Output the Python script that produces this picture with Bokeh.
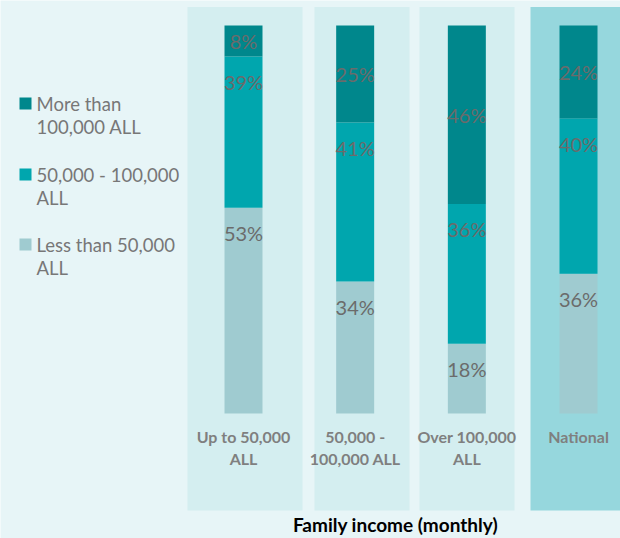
from bokeh.plotting import figure
from bokeh.models import Range1d, ColumnDataSource
from bokeh.core.properties import value
from bokeh.embed import file_html
from bokeh.resources import INLINE

# ---------------- data ----------------
categories = ["Up to 50,000\nALL", "50,000 -\n100,000 ALL", "Over 100,000\nALL", "National"]
series_names = ["Less than 50,000\nALL", "50,000 - 100,000\nALL", "More than\n100,000 ALL"]
less_50k = [53, 34, 18, 36]
mid_50_100k = [39, 41, 36, 40]
more_100k = [8, 25, 46, 24]
x_title = "Family income (monthly)"

# ---------------- styles ----------------
BG = "#E7F5F7"
PANEL = "#D4EEF0"
PANEL_NAT = "#96D7DD"
C_LESS = "#9FCBD0"
C_MID = "#00A6AE"
C_MORE = "#00878C"
LBL = "#6B6B6B"
CAT = "#7F7F7F"
FONT = "Lato"

# layout helpers (reference pixel -> data units)
X0, DX = 243.0, 111.67
Y0, SY = 413.0, 3.88
def xw(X):
    return (X - X0) / DX
def yw(Y):
    return (Y0 - Y) / SY
PX = 1.0 / SY  # one vertical pixel in data units

W, H = 620, 538
p = figure(width=W, height=H, output_backend="svg", toolbar_location=None,
           x_range=Range1d(xw(0), xw(W)), y_range=Range1d(yw(H), yw(0)),
           min_border=0, min_border_left=0, min_border_right=0,
           min_border_top=0, min_border_bottom=0)
p.background_fill_color = BG
p.border_fill_color = BG
p.outline_line_color = None
p.axis.visible = False
p.grid.visible = False

# category panels
panel_edges = [(187, 302), (314, 409), (419, 514), (530, 640)]
p.quad(left=[xw(a) for a, b in panel_edges], right=[xw(b) for a, b in panel_edges],
       bottom=yw(510), top=yw(6.5),
       fill_color=[PANEL, PANEL, PANEL, PANEL_NAT], line_color=None)

# stacked bars
xs = list(range(len(categories)))
src = ColumnDataSource(dict(x=xs, less=less_50k, mid=mid_50_100k, more=more_100k))
p.vbar_stack(["less", "mid", "more"], x="x", width=38 / DX, source=src,
             color=[C_LESS, C_MID, C_MORE], line_color=None)

# value labels
off = 25 * PX
lx, ly, lt = [], [], []
for i in xs:
    a, b, c = less_50k[i], mid_50_100k[i], more_100k[i]
    lx += [i, i, i]
    ly += [a - off, a + b - off, (a + b + a + b + c) / 2]
    lt += [f"{a}%", f"{b}%", f"{c}%"]
p.text(x=lx, y=ly, text=lt, text_align="center", text_baseline="middle",
       text_font=value(FONT), text_font_size="20px", text_color=LBL)

# category labels
cx, cy, ct = [], [], []
for i, c in enumerate(categories):
    for j, line in enumerate(c.split("\n")):
        cx.append(i)
        cy.append(yw(436 + 22 * j))
        ct.append(line)
p.text(x=cx, y=cy, text=ct, text_align="center", text_baseline="middle",
       text_font=value(FONT), text_font_size="16px", text_font_style="bold",
       text_color=CAT)

# axis title
p.text(x=[xw(395)], y=[yw(524)], text=[x_title], text_align="center",
       text_baseline="middle", text_font=value(FONT), text_font_size="19px",
       text_font_style="bold", text_color="#000000")

# legend (top-to-bottom: More, 50-100k, Less)
leg_order = [2, 1, 0]
leg_colors = [C_LESS, C_MID, C_MORE]
leg_y = [103, 174, 244]
p.scatter(x=[xw(25)] * 3, y=[yw(v) for v in leg_y], marker="square", size=12,
          fill_color=[leg_colors[k] for k in leg_order], line_color=None)
tx, ty, tt = [], [], []
for k, yy in zip(leg_order, leg_y):
    for j, line in enumerate(series_names[k].split("\n")):
        tx.append(xw(36))
        ty.append(yw(yy + 23 * j))
        tt.append(line)
p.text(x=tx, y=ty, text=tt, text_align="left", text_baseline="middle",
       text_font=value(FONT), text_font_size="18.5px", text_color="#777777")

open("out.html", "w").write(file_html(p, INLINE))
